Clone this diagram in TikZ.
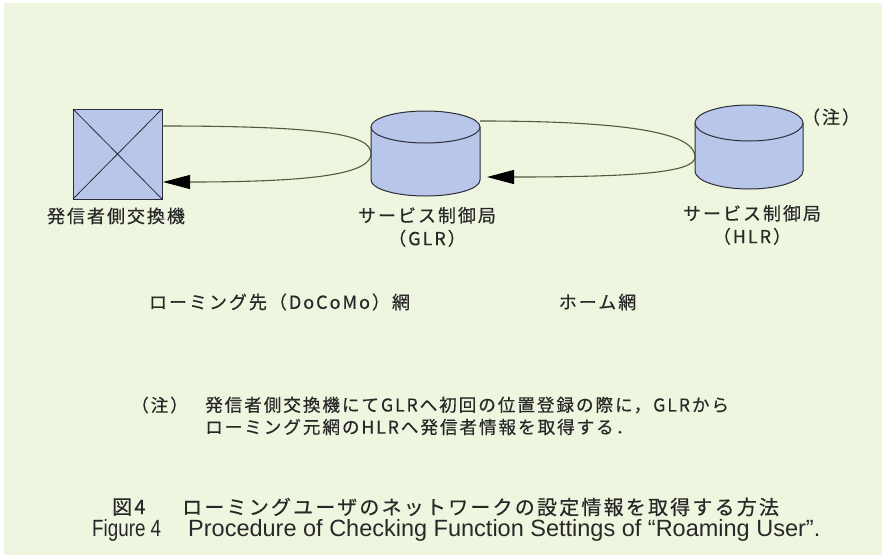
\documentclass[tikz,border=0pt]{standalone}
\usepackage{fontspec}
\setmainfont{Liberation Sans}
\newfontfamily\jpfont[LetterSpace=11,FakeBold=0.4]{Noto Sans CJK JP}
\usetikzlibrary{arrows.meta}
\definecolor{bgc}{RGB}{239,246,224}
\definecolor{fillc}{RGB}{184,198,234}
\definecolor{edgec}{RGB}{45,45,55}
\definecolor{linec}{RGB}{80,92,60}
\definecolor{txtc}{RGB}{40,40,40}
\begin{document}
\begin{tikzpicture}[x=1pt,y=-1pt,
  txt/.style={text=txtc, inner sep=0pt},
  jpl/.style={txt, font=\jpfont\fontsize{18}{23}\selectfont},
  jpc/.style={txt, font=\jpfont\fontsize{20}{24}\selectfont},
  jps/.style={txt, font=\jpfont\fontsize{17.6}{22}\selectfont},
  ens/.style={txt, font=\fontsize{23.5}{27}\selectfont},
  conn/.style={draw=linec, line width=1.1pt},
  tipped/.style={conn, -{Triangle[length=27pt,width=14pt,color=black]}},
  solid shape/.style={draw=edgec, line width=1pt, fill=fillc},
  holder/.style={inner sep=0pt, outer sep=0pt}
]
\useasboundingbox (0,0) rectangle (882,555);
\fill[white] (0,0) rectangle (882,555);
\fill[bgc] (4,3) rectangle (882,555);

% switch box
\node[holder, solid shape, minimum width=89pt, minimum height=90pt] (sw) at (117.5,154) {};
\draw[edgec, line width=0.8pt] (sw.north west) -- (sw.south east) (sw.north east) -- (sw.south west);

% GLR cylinder
\node[holder, minimum width=109pt, minimum height=85pt] (glr) at (425.5,153.5) {};
\fill[fillc] (371,127) -- (371,180) arc[start angle=180,end angle=0,x radius=54.5,y radius=16] -- (480,127) -- cycle;
\draw[edgec, line width=1pt] (371,127) -- (371,180) arc[start angle=180,end angle=0,x radius=54.5,y radius=16] -- (480,127);
\draw[solid shape] (425.5,127) ellipse[x radius=54.5, y radius=16];

% HLR cylinder
\node[holder, minimum width=108pt, minimum height=85pt] (hlr) at (749,146.5) {};
\fill[fillc] (695,123) -- (695,171) arc[start angle=180,end angle=0,x radius=54,y radius=18] -- (803,123) -- cycle;
\draw[edgec, line width=1pt] (695,123) -- (695,171) arc[start angle=180,end angle=0,x radius=54,y radius=18] -- (803,123);
\draw[solid shape] (749,123) ellipse[x radius=54, y radius=18];

% loops
\draw[tipped] ([yshift=28pt]sw.east) .. controls (320,126) and (371,134) .. (glr.west)
  .. controls (371,173) and (320,182) .. ([yshift=-28pt,xshift=1pt]sw.east);
\draw[tipped] ([yshift=32.5pt]glr.east) .. controls (640,121) and (695,135) .. ([yshift=-10.5pt]hlr.west)
  .. controls (695,172) and (640,177) .. ([yshift=-23.5pt,xshift=7pt]glr.east);

% labels
\node[jpl] (swl) at (116,216) {発信者側交換機};
\node[jpl, align=center] (glrl) at (427,227) {サービス制御局\\（GLR）};
\node[jpl, align=center] (hlrl) at (752,225) {サービス制御局\\（HLR）};
\node[jpl] (note) at (831,117) {（注）};

\node[jpl] (roam) at (279.5,302) {ローミング先（DoCoMo）網};
\node[jpl] (home) at (597.5,302) {ホーム網};

\node[jps, anchor=west] (nk) at (131,405) {（注）};
\node[jps, anchor=west] (n1) at (205,405) {発信者側交換機にてGLRへ初回の位置登録の際に，GLRから};
\node[jps, anchor=west] (n2) at (205,427) {ローミング元網のHLRへ発信者情報を取得する．};

\node[jpc, anchor=west] (c1a) at (112,507) {図4};
\node[jpc, anchor=west] (c1b) at (182,507) {ローミングユーザのネットワークの設定情報を取得する方法};
\node[ens, anchor=west] (c2a) at (92,530) {\scalebox{0.8}[1]{Figure 4}};
\node[ens, anchor=west] (c2b) at (188,530) {Procedure of Checking Function Settings of “Roaming User”.};
\end{tikzpicture}
\end{document}
